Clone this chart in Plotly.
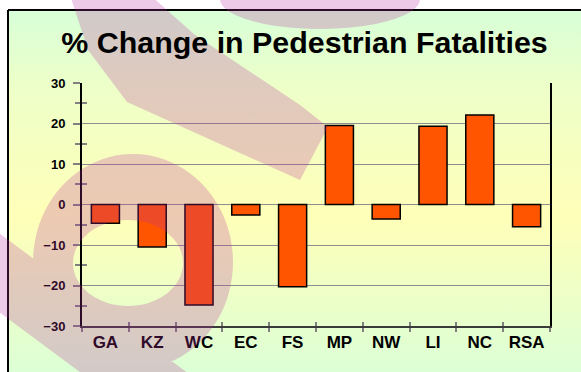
import numpy as np
import plotly.graph_objects as go

# ---- data -------------------------------------------------------------
regions = ["GA", "KZ", "WC", "EC", "FS", "MP", "NW", "LI", "NC", "RSA"]
pct_change = [-4.6, -10.5, -24.8, -2.6, -20.3, 19.5, -3.6, 19.3, 22.1, -5.5]
y_tick_values = [-30, -20, -10, 0, 10, 20, 30]
y_cross_ticks = [-25, -15, -5, 5, 15, 25]
title_text = "% Change in Pedestrian Fatalities"

# ---- canvas geometry (pixels) -----------------------------------------
W, H = 581, 372
PLOT_L, PLOT_R, PLOT_T, PLOT_B = 82, 550, 83, 326

BAR_COLOR = "#FF5500"
GRID_COLOR = "#8E8E8E"
TICK_COLOR = "#808080"
FONT = "Liberation Sans"
WATERMARK = "rgb(185,45,160)"


def oriented(points, ccw=True):
    """Return polygon points with a fixed winding direction."""
    pts = np.asarray(points, dtype=float)
    x, y = pts[:, 0], pts[:, 1]
    area = 0.5 * np.sum(x * np.roll(y, -1) - np.roll(x, -1) * y)
    if (area > 0) != ccw:
        pts = pts[::-1]
    return pts


def ellipse(cx, cy, rx, ry, n=90):
    t = np.linspace(0, 2 * np.pi, n, endpoint=False)
    return np.column_stack([cx + rx * np.cos(t), cy + ry * np.sin(t)])


def to_path(polys):
    parts = []
    for p in polys:
        seg = "M" + " L".join(f"{px:.1f},{py:.1f}" for px, py in p) + " Z"
        parts.append(seg)
    return " ".join(parts)


# translucent watermark outline drawn over the whole card
watermark_polys = [
    oriented(ellipse(133, 262, 100, 108), True),          # ring, outer
    oriented(ellipse(128, 263, 55, 43), False),            # ring, hole
    oriented([(-20, 219), (320, 471), (320, 550), (-20, 298)], True),  # lower band
    oriented([(70, -5), (150, -5), (195, 35), (300, 105), (328, 127),
              (300, 180), (127, 102), (88, 50)], True),   # upper band
    oriented(ellipse(320, -1, 100, 30), True),             # top arc
]

fig = go.Figure()

# card background with a soft green-yellow-green gradient and black frame
fig.add_trace(go.Scatter(
    x=[8, 620, 620, 8, 8], y=[10, 10, 400, 400, 10],
    mode="lines", fill="toself",
    line=dict(color="black", width=2),
    fillgradient=dict(
        type="vertical", start=10, stop=372,
        colorscale=[[0.0, "#D8FFD8"], [0.22, "#EEFFC8"],
                    [0.57, "#FFFFB8"], [1.0, "#DCFFD6"]],
    ),
    hoverinfo="skip", showlegend=False, xaxis="x", yaxis="y",
))

# the bars
fig.add_trace(go.Bar(
    x=regions, y=pct_change,
    marker=dict(color=BAR_COLOR, line=dict(color="black", width=1.5)),
    width=0.6, showlegend=False, xaxis="x2", yaxis="y2",
    hovertemplate="%{x}: %{y}%<extra></extra>",
))

# empty trace to carry the inner tick marks
fig.add_trace(go.Scatter(x=[], y=[], xaxis="x3", yaxis="y3",
                         showlegend=False, hoverinfo="skip"))

dx = [PLOT_L / W, PLOT_R / W]
dy = [1 - PLOT_B / H, 1 - PLOT_T / H]

fig.update_layout(
    width=W, height=H,
    autosize=False,
    margin=dict(l=0, r=0, t=0, b=0, pad=0, autoexpand=False),
    paper_bgcolor="white",
    plot_bgcolor="rgba(0,0,0,0)",
    showlegend=False,
    title=dict(
        text=title_text, x=304.5 / W, xanchor="center",
        yref="container", y=1 - 42 / H, yanchor="middle",
        font=dict(family=FONT, size=30.4, color="black", weight="bold"),
    ),
    # background (pixel space)
    xaxis=dict(domain=[0, 1], range=[0, W], visible=False, fixedrange=True,
               automargin=False),
    yaxis=dict(domain=[0, 1], range=[H, 0], visible=False, fixedrange=True,
               automargin=False),
    # chart axes
    xaxis2=dict(
        domain=dx, anchor="y2", type="category",
        categoryorder="array", categoryarray=regions,
        range=[-0.5, len(regions) - 0.5], automargin=False,
        showline=True, linecolor="#3A3A3A", linewidth=2,
        ticks="outside", tickson="boundaries", ticklen=4,
        tickcolor=TICK_COLOR, tickwidth=1.5,
        showgrid=False, zeroline=False,
        tickfont=dict(family=FONT, size=17, color="black", weight="bold"),
    ),
    yaxis2=dict(
        domain=dy, anchor="x2", range=[-30, 30], automargin=False,
        tickvals=y_tick_values,
        showline=True, linecolor="black", linewidth=2, mirror=True,
        ticks="outside", ticklen=7, tickcolor=TICK_COLOR, tickwidth=1.5,
        minor=dict(dtick=5, ticks="outside", ticklen=5,
                   tickcolor=TICK_COLOR, tickwidth=1.5, showgrid=False),
        showgrid=True, gridcolor=GRID_COLOR, gridwidth=1,
        zeroline=False, ticklabelstandoff=5,
        tickfont=dict(family=FONT, size=13, color="black", weight="bold"),
    ),
    # inner halves of the crossing tick marks
    xaxis3=dict(
        overlaying="x2", anchor="y3", range=[-0.5, len(regions) - 0.5],
        tickvals=[i + 0.5 for i in range(len(regions) - 1)], automargin=False,
        ticks="inside", ticklen=4, tickcolor=TICK_COLOR, tickwidth=1.5,
        showticklabels=False, showgrid=False, zeroline=False, showline=False,
    ),
    yaxis3=dict(
        overlaying="y2", anchor="x3", range=[-30, 30], automargin=False,
        tickvals=y_cross_ticks,
        ticks="inside", ticklen=5, tickcolor=TICK_COLOR, tickwidth=1.5,
        showticklabels=False, showgrid=False, zeroline=False, showline=False,
    ),
    shapes=[dict(
        type="path", xref="x", yref="y", layer="above",
        path=to_path(watermark_polys), fillrule="nonzero",
        fillcolor=WATERMARK, opacity=0.25, line=dict(width=0),
    )],
)

fig.write_html("out.html")
